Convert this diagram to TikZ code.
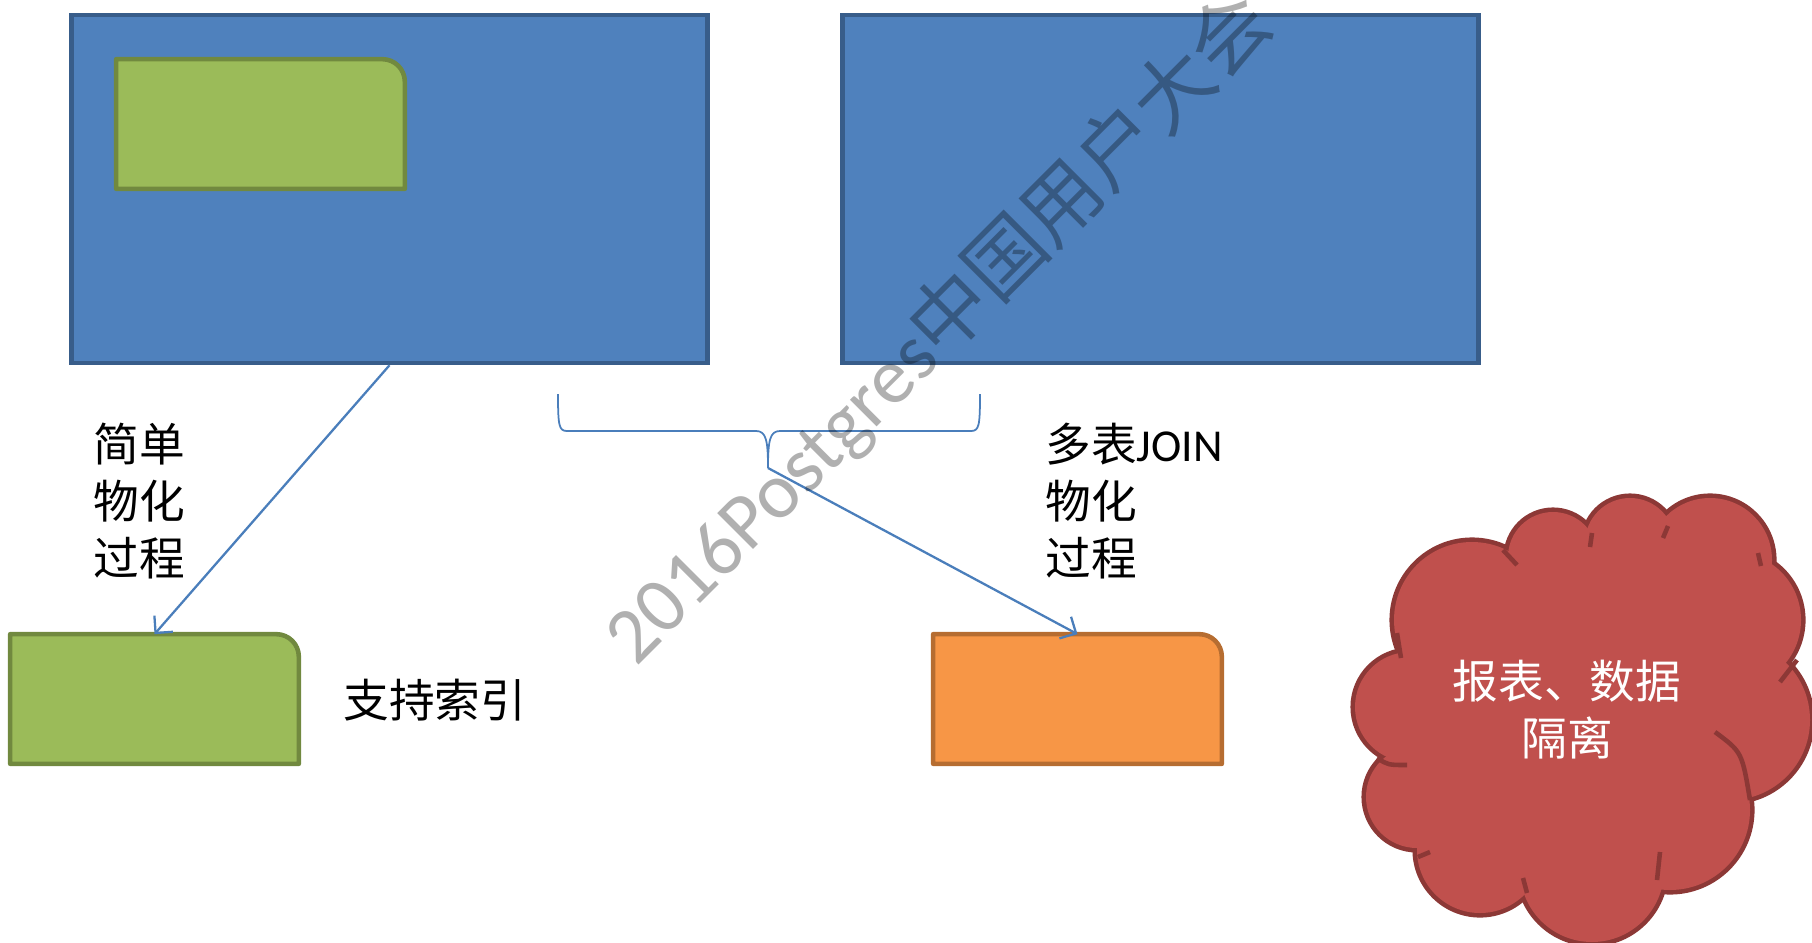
\documentclass[tikz,border=0pt]{standalone}
\usepackage{fontspec}
\setmainfont{Carlito}
\newfontfamily\cjk{Noto Sans CJK SC}
\usetikzlibrary{arrows.meta}

\definecolor{srcblue}{HTML}{4F81BD}
\definecolor{srcedge}{HTML}{385D8A}
\definecolor{mvgreen}{HTML}{9BBB59}
\definecolor{mvgreenedge}{HTML}{71893F}
\definecolor{mvorange}{HTML}{F79646}
\definecolor{mvorangeedge}{HTML}{B66D31}
\definecolor{cloudred}{HTML}{C0504D}
\definecolor{cloudedge}{HTML}{8C3836}
\definecolor{linkblue}{HTML}{4A7EBB}

\begin{document}
\begin{tikzpicture}[x=0.02cm, y=-0.02cm,
  src/.style={draw=srcedge, fill=srcblue, line width=2.6pt, minimum width=12.72cm, minimum height=6.96cm, inner sep=0},
  tab/.style={minimum width=5.76cm, minimum height=2.58cm, inner sep=0},
  link/.style={draw=linkblue, line width=1.3pt},
  tip/.style={-{Straight Barb[length=7pt, width=14pt]}},
  lbl/.style={font=\cjk\fontsize{26}{32.4}\selectfont, align=left, inner sep=0, anchor=west}]

\useasboundingbox (0,0) rectangle (1812,943);

%% source tables
\node [src] (srcL) at (389.5,189) {};
\node [src] (srcR) at (1160.5,189) {};

%% materialized views
\node [tab] (mvIn) at (260.5,124) {};
\node [tab] (mvIdx) at (154.5,699) {};
\node [tab] (mvJoin) at (1077.5,699) {};
\foreach \n/\c in {mvIn/mvgreen, mvIdx/mvgreen, mvJoin/mvorange}
  \draw [fill=\c, draw=\c edge, line width=2.6pt, line join=round]
    (\n.south west) -- (\n.north west) -- ([xshift=-0.45cm]\n.north east)
    arc [start angle=90, end angle=0, radius=0.45cm] -- (\n.south east) -- cycle;

%% simple path
\draw [link, tip] (srcL.south) -- (mvIdx.north);
\node [lbl] (simpleLbl) at (93,501) {简单\\物化\\过程};
\node [lbl] (idxLbl) at (343,700) {支持索引};

%% join path
\coordinate (fork) at (768,468);
\draw [link, line width=1pt] (558,394) .. controls (558,426) and (559,431) .. (567,431) -- (756,431)
  .. controls (766,431) and (768,440) .. (fork)
  .. controls (768,440) and (770,431) .. (780,431) -- (971,431)
  .. controls (979,431) and (980,426) .. (980,394);
\draw [link, tip] (fork) -- (mvJoin.north);
\node [lbl] (joinLbl) at (1045,501) {多表{\rmfamily JOIN}\\物化\\过程};

%% report cloud: outline of the puffs, then the inside filled over it
\foreach \cx/\cy/\r in {1472/620/78, 1553/557/45, 1630/543/45, 1710/560/62, 1733/620/68,
    1730/720/80, 1670/810/80, 1592/870/72, 1480/850/63, 1417/797/51, 1410/707/55}
  \draw [cloudedge, line width=5.2pt] (\cx,\cy) circle [radius=\r];
\fill [cloudred] (1472,620) -- (1553,557) -- (1630,543) -- (1710,560) -- (1733,620) -- (1730,720)
  -- (1670,810) -- (1592,870) -- (1480,850) -- (1417,797) -- (1410,707) -- cycle;
\foreach \cx/\cy/\r in {1472/620/78, 1553/557/45, 1630/543/45, 1710/560/62, 1733/620/68,
    1730/720/80, 1670/810/80, 1592/870/72, 1480/850/63, 1417/797/51, 1410/707/55}
  \fill [cloudred] (\cx,\cy) circle [radius=\r];
%% inner puff strokes
\draw [cloudedge, line width=2.6pt]
  (1377,758) .. controls (1388,765) .. (1407,765)
  (1418,857) -- (1430,852)
  (1527,893) -- (1523,878)
  (1657,880) -- (1660,852)
  (1715,732) .. controls (1742,752) .. (1750,800)
  (1780,682) -- (1797,660)
  (1761,566) -- (1758,553)
  (1663,538) -- (1668,526)
  (1590,547) -- (1592,533)
  (1517,565) -- (1503,550)
  (1401,658) -- (1397,633);
\node [font=\cjk\fontsize{26}{32.4}\selectfont, text=white, align=center, inner sep=0] (report) at (1567,710)
  {报表、数据\\隔离};

%% watermark
\node [rotate=45, opacity=0.31, font=\fontsize{45}{54}\selectfont, inner sep=0] (mark) at (938,328)
  {2016Postgres{\cjk 中国用户大会}};

\end{tikzpicture}
\end{document}
